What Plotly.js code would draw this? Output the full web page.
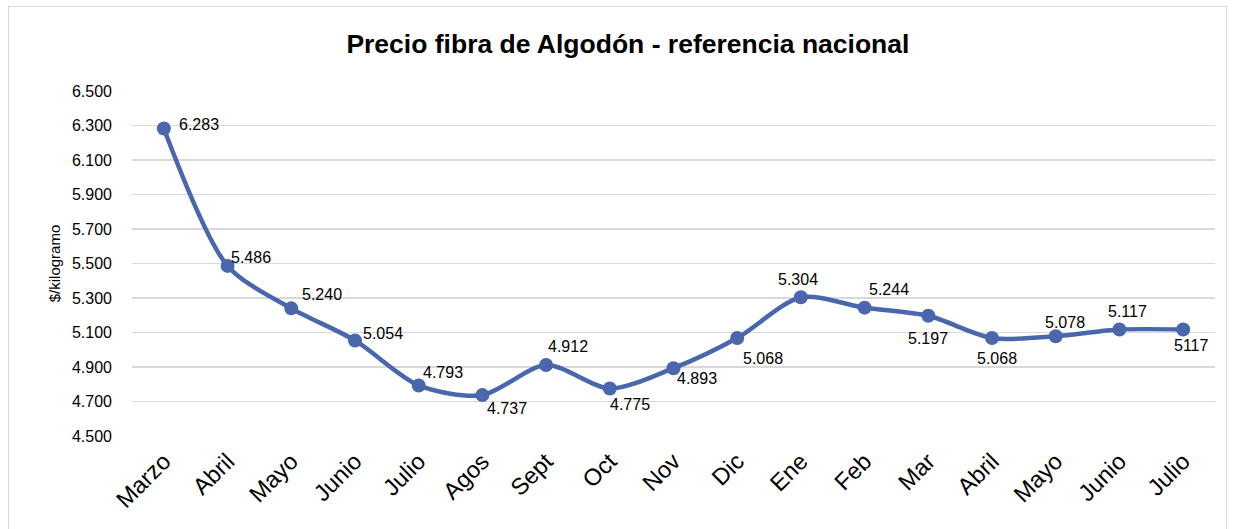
<!DOCTYPE html>
<html>
<head>
<meta charset="utf-8">
<script src="https://cdn.plot.ly/plotly-3.0.1.min.js"></script>
<style>
  html, body { margin: 0; padding: 0; background: #ffffff; }
  #wrap { position: relative; width: 1236px; height: 529px; }
  #chart { width: 1236px; height: 529px; }
  #frame { position: absolute; left: 8px; top: 6px; width: 1219px; height: 530px;
           border: 1.5px solid #d9d9d9; pointer-events: none; box-sizing: border-box; }
</style>
</head>
<body>
<div id="wrap"><div id="chart"></div><div id="frame"></div></div>
<script>
// ---- data ----
const months = ["Marzo","Abril","Mayo","Junio","Julio","Agos","Sept","Oct","Nov","Dic","Ene","Feb","Mar","Abril","Mayo","Junio","Julio"];
const prices = [6.283, 5.486, 5.240, 5.054, 4.793, 4.737, 4.912, 4.775, 4.893, 5.068, 5.304, 5.244, 5.197, 5.068, 5.078, 5.117, 5.117];
const priceLabels = ["6.283","5.486","5.240","5.054","4.793","4.737","4.912","4.775","4.893","5.068","5.304","5.244","5.197","5.068","5.078","5.117","5117"];
const yTicks = [4.5, 4.7, 4.9, 5.1, 5.3, 5.5, 5.7, 5.9, 6.1, 6.3, 6.5];

// ---- label placement (style, pixels: right / down) ----
const labelDx = [35, 23, 31, 28, 24, 25, 22, 20, 23, 26, -3, 24, 0, 5, 9, 8, 8];
const labelDy = [-4, -8, -14, -7, -13, 13, -18, 16, 10, 20, -18, -18, 23, 20, -14, -18, 16];

const idx = months.map((_, i) => i);
const lineColor = "#4a66ac";
const FONT = "Liberation Sans, Arial, sans-serif";

const trace = {
  x: idx, y: prices, type: "scatter", mode: "lines+markers",
  line: { color: lineColor, width: 4.5, shape: "spline", smoothing: 0.8 },
  marker: { color: lineColor, size: 14 },
  hoverinfo: "skip", showlegend: false
};

const annotations = idx.map(i => ({
  x: i, y: prices[i], xref: "x", yref: "y",
  text: priceLabels[i], showarrow: false,
  xanchor: "center", yanchor: "middle",
  xshift: labelDx[i], yshift: -labelDy[i],
  font: { family: FONT, size: 16, color: "#000000" }
}));

const layout = {
  width: 1236, height: 529,
  paper_bgcolor: "#ffffff", plot_bgcolor: "#ffffff",
  margin: { l: 132, r: 21, t: 91, b: 93 },
  title: { text: "<b>Precio fibra de Algodón - referencia nacional</b>",
           font: { family: FONT, size: 26.5, color: "#000000" },
           x: 0.508, xanchor: "center", y: 0.918, yanchor: "middle" },
  xaxis: {
    range: [-0.5, months.length - 0.5],
    tickmode: "array", tickvals: idx, ticktext: months,
    tickangle: -45, showgrid: false, zeroline: false, showline: false,
    ticks: "", ticklabelstandoff: 6,
    tickfont: { family: FONT, size: 23.5, color: "#000000" }
  },
  yaxis: {
    range: [4.5, 6.5], tickmode: "array", tickvals: yTicks,
    ticktext: yTicks.map(v => v.toFixed(3)),
    showgrid: true, gridcolor: "#d9d9d9", gridwidth: 1.5,
    zeroline: false, showline: false, ticks: "",
    tickfont: { family: FONT, size: 16, color: "#000000" },
    ticklabelstandoff: 19,
    title: { text: "$/kilogramo", font: { family: FONT, size: 15, color: "#000000" }, standoff: 7 }
  },
  annotations: annotations
};

Plotly.newPlot("chart", [trace], layout, { displayModeBar: false, staticPlot: true });
</script>
</body>
</html>
